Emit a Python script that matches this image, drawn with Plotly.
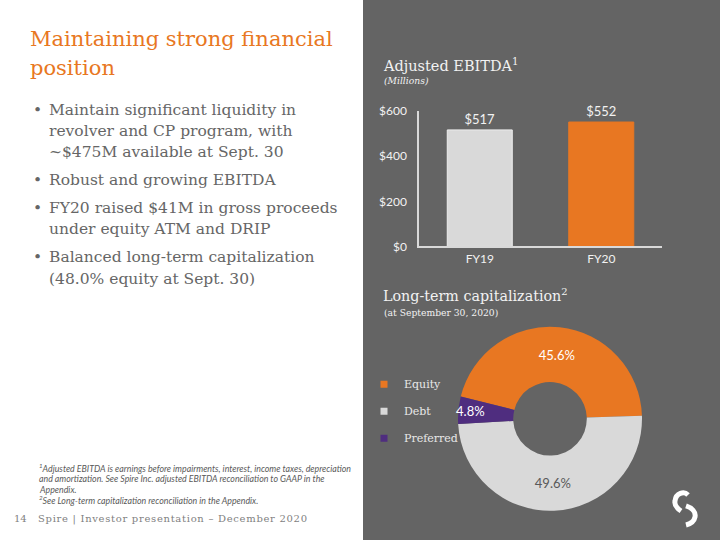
import plotly.graph_objects as go

# ---------------- data ----------------
ebitda_categories = ["FY19", "FY20"]
ebitda_values = [517, 552]
ebitda_colors = ["#D9D9D9", "#E87722"]
ebitda_ticks = [0, 200, 400, 600]
ebitda_ticktext = ["$0", "$200", "$400", "$600"]

cap_labels = ["Equity", "Debt", "Preferred"]
cap_values = [45.6, 49.6, 4.8]
cap_colors = ["#E87722", "#D9D9D9", "#4F2D7F"]
cap_text_colors = ["#FFFFFF", "#595959", "#FFFFFF"]

title_lines = ["Maintaining strong financial", "position"]
bullets = [
    ["Maintain significant liquidity in", "revolver and CP program, with", "~$475M available at Sept. 30"],
    ["Robust and growing EBITDA"],
    ["FY20 raised $41M in gross proceeds", "under equity ATM and DRIP"],
    ["Balanced long-term capitalization", "(48.0% equity at Sept. 30)"],
]
footnotes = [
    "<sup>1</sup>Adjusted EBITDA is earnings before impairments, interest, income taxes, depreciation",
    "and amortization. See Spire Inc. adjusted EBITDA reconciliation to GAAP in the",
    "Appendix.",
    "<sup>2</sup>See Long-term capitalization reconciliation in the Appendix.",
]

W, H = 720, 540
VPAD = 8  # vertical inset of the plotting area observed in the renderer
def X(px): return px / W
def Y(py): return 1 - (py - VPAD) / (H - 2 * VPAD)

SERIF = "DejaVu Serif"
SANS = "Lato"
ORANGE = "#E87722"
PANEL = "#646464"
LIGHT = "#F2F2F2"
BODY = "#666666"

fig = go.Figure()

fig.add_trace(go.Bar(
    x=ebitda_categories, y=ebitda_values,
    marker=dict(color=ebitda_colors, line=dict(color=["#EEEEEE", ORANGE], width=1)),
    text=[f"${v}" for v in ebitda_values], textposition="outside",
    textfont=dict(family=SANS, size=12, color=LIGHT),
    cliponaxis=False, showlegend=False, hoverinfo="skip",
))

fig.add_trace(go.Pie(
    labels=cap_labels, values=cap_values, sort=False, direction="clockwise",
    rotation=-76, hole=0.4,
    marker=dict(colors=cap_colors, line=dict(width=0)),
    texttemplate="%{value:.1f}%", textposition="inside",
    insidetextorientation="horizontal",
    insidetextfont=dict(family=SANS, size=13, color=cap_text_colors),
    domain=dict(x=[X(458), X(642)], y=[Y(510), Y(326)]),
    showlegend=False, hoverinfo="label+percent",
))

# legend keys for the donut
for lab, col in zip(cap_labels, cap_colors):
    fig.add_trace(go.Scatter(
        x=[None], y=[None], mode="markers", name=lab, legendgroup=lab,
        marker=dict(symbol="square", size=7, color=col),
    ))

ann = []
def add_text(px, py, text, size, color, family=SERIF, xanchor="left", yanchor="middle"):
    ann.append(dict(x=X(px), y=Y(py), xref="paper", yref="paper", text=text,
                    showarrow=False, xanchor=xanchor, yanchor=yanchor,
                    font=dict(family=family, size=size, color=color)))

# Title
for i, line in enumerate(title_lines):
    add_text(28, 39 + i * 29, line, 21, ORANGE)

# Bullets
bullet_y = [[110, 131, 152], [180], [208, 229], [257, 278]]
for lines, ys in zip(bullets, bullet_y):
    add_text(31, ys[0], "•", 15.5, BODY)
    for line, yy in zip(lines, ys):
        add_text(47, yy, line, 15.5, BODY)

# Footnotes
for i, line in enumerate(footnotes):
    add_text(37, 467 + i * 10.7, "<i>" + line + "</i>", 8.8, "#595959", family=SANS)

# Footer
add_text(12, 518, "14", 10, "#7F7F7F")
add_text(36, 518, '<span style="letter-spacing:0.7px">Spire | Investor presentation – December 2020</span>', 10, "#7F7F7F")

# Chart titles
add_text(381, 65, "Adjusted EBITDA<sup>1</sup>", 14.5, LIGHT)
add_text(382, 80, "<i>(Millions)</i>", 9.2, LIGHT)
add_text(381, 294, "Long-term capitalization<sup>2</sup>", 14.3, LIGHT)
add_text(382, 312, "(at September 30, 2020)", 9.2, LIGHT)

logo_top = "M {:.5f},{:.5f} C {:.5f},{:.5f} {:.5f},{:.5f} {:.5f},{:.5f} C {:.5f},{:.5f} {:.5f},{:.5f} {:.5f},{:.5f}".format(
    X(688), Y(494), X(684), Y(490), X(676), Y(492), X(675), Y(500),
    X(674), Y(505), X(678), Y(508), X(681), Y(510))
logo_bot = "M {:.5f},{:.5f} C {:.5f},{:.5f} {:.5f},{:.5f} {:.5f},{:.5f} C {:.5f},{:.5f} {:.5f},{:.5f} {:.5f},{:.5f}".format(
    X(686), Y(505), X(692), Y(507), X(696), Y(511), X(695), Y(516),
    X(694), Y(521), X(690), Y(523), X(686), Y(524))

shapes = [
    dict(type="rect", xref="paper", yref="paper", x0=X(363), x1=X(725), y0=Y(545), y1=Y(-5),
         fillcolor=PANEL, line=dict(width=0), layer="below"),
    dict(type="path", xref="paper", yref="paper", path=logo_top,
         line=dict(color="white", width=5)),
    dict(type="path", xref="paper", yref="paper", path=logo_bot,
         line=dict(color="white", width=5)),
]

fig.update_layout(
    width=W, height=H, autosize=False, margin=dict(l=0, r=0, t=0, b=0),
    paper_bgcolor="white", plot_bgcolor="rgba(0,0,0,0)",
    bargap=0.465,
    uniformtext=dict(minsize=13, mode="show"),
    xaxis=dict(domain=[X(419), X(662)], range=[-0.5, 1.5], showline=True,
               linecolor="#D9D9D9", linewidth=1.5, showgrid=False, zeroline=False,
               tickfont=dict(family=SANS, size=12, color=LIGHT), ticks="",
               fixedrange=True),
    yaxis=dict(domain=[Y(246), Y(111)], range=[0, 600], tickvals=ebitda_ticks,
               ticktext=ebitda_ticktext, showline=True, linecolor="#D9D9D9",
               linewidth=1.5, showgrid=False, zeroline=False, ticks="",
               ticklabelstandoff=8,
               tickfont=dict(family=SANS, size=12, color=LIGHT), fixedrange=True),
    legend=dict(x=X(364), y=Y(369), xanchor="left", yanchor="top",
                font=dict(family=SERIF, size=11, color="#E8E8E8"),
                bgcolor="rgba(0,0,0,0)", tracegroupgap=8, traceorder="grouped"),
    annotations=ann, shapes=shapes,
)

post = """
document.body.style.margin='0';
document.body.style.overflow='hidden';
"""
fig.write_html("out.html", post_script=post, config={"displayModeBar": False})
